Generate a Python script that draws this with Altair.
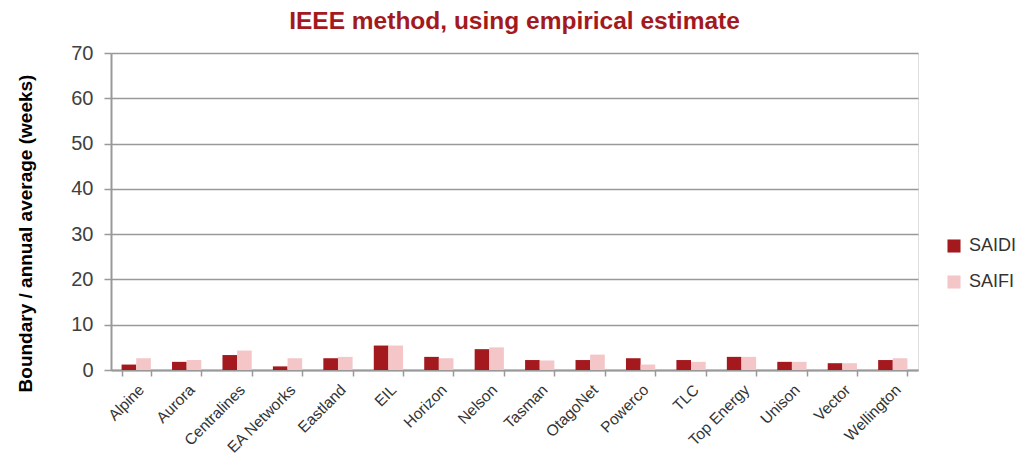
import altair as alt
import pandas as pd

companies = ["Alpine", "Aurora", "Centralines", "EA Networks", "Eastland", "EIL",
             "Horizon", "Nelson", "Tasman", "OtagoNet", "Powerco", "TLC",
             "Top Energy", "Unison", "Vector", "Wellington"]
saidi = [1.2, 1.8, 3.3, 0.8, 2.6, 5.4, 2.9, 4.6, 2.2, 2.2, 2.6, 2.2, 2.9, 1.8, 1.5, 2.2]
saifi = [2.6, 2.2, 4.3, 2.6, 2.9, 5.4, 2.6, 5.0, 2.1, 3.4, 1.2, 1.8, 2.9, 1.8, 1.5, 2.6]
series = ["SAIDI", "SAIFI"]
colors = ["#A3191E", "#F4C6C8"]

rows = []
for c, a, b in zip(companies, saidi, saifi):
    rows.append({"company": c, "series": "SAIDI", "value": a})
    rows.append({"company": c, "series": "SAIFI", "value": b})
df = pd.DataFrame(rows)

font = "Liberation Sans"

chart = alt.Chart(df).mark_bar().encode(
    x=alt.X("company:N", sort=companies,
            scale=alt.Scale(paddingInner=0.42, paddingOuter=0.21),
            axis=alt.Axis(title=None, labelAngle=-45, labelAlign="right",
                          labelBaseline="top", labelFontSize=15.5, labelColor="#333333",
                          labelFont=font, tickBand="extent", ticks=True, tickSize=6,
                          tickColor="#999999", tickWidth=1.5, domainColor="#999999",
                          domainWidth=2, grid=False, labelPadding=6)),
    xOffset=alt.XOffset("series:N", sort=series),
    y=alt.Y("value:Q", scale=alt.Scale(domain=[0, 70], nice=False),
            axis=alt.Axis(title="Boundary / annual average  (weeks)", values=list(range(0, 71, 10)),
                          titleFont=font, titleFontSize=19, titleFontWeight="bold",
                          titleColor="#000000", titleX=-86, titleY=180,
                          titleAngle=-90, titleAlign="center", titleBaseline="middle",
                          labelFont=font, labelFontSize=20, labelColor="#404040",
                          labelPadding=11, tickSize=7, tickColor="#999999", tickWidth=1.5,
                          domainColor="#999999", domainWidth=2,
                          gridColor="#999999", gridWidth=1.6)),
    color=alt.Color("series:N", sort=series,
                    scale=alt.Scale(domain=series, range=colors),
                    legend=alt.Legend(title=None, orient="none", legendX=834, legendY=184,
                                      symbolType="square", symbolSize=170,
                                      labelFont=font, labelFontSize=18, labelColor="#333333",
                                      labelOffset=6, rowPadding=18, symbolStrokeWidth=0)),
).properties(
    width=807, height=317,
    title=alt.TitleParams("IEEE method, using empirical estimate", font=font, fontSize=24.5,
                          fontWeight="bold", color="#A3191E", anchor="middle", offset=9),
    padding={"left": 111, "top": 53, "right": 104, "bottom": 89},
    autosize=alt.AutoSizeParams(type="none"),
).configure_view(stroke=None).configure(background="white")

chart.save("out.html", embed_options={"renderer": "svg", "actions": False})
